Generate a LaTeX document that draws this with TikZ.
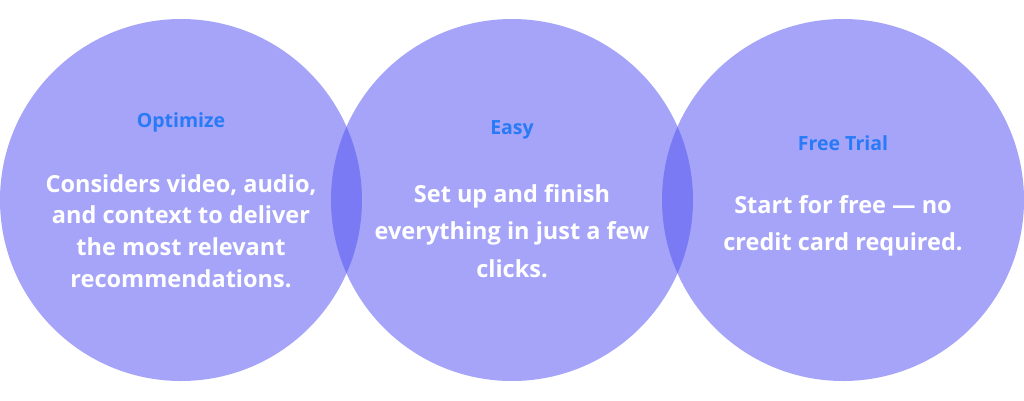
\documentclass[tikz,border=0pt]{standalone}
\usepackage{fontspec}
\setmainfont{Open Sans}
\definecolor{circ}{RGB}{86,84,242}
\definecolor{ttl}{RGB}{40,122,246}
\begin{document}
\begin{tikzpicture}[x=1pt,y=-1pt,
  bubble/.style={circle, minimum size=362pt, inner sep=0pt, fill=circ, fill opacity=0.53},
  ttlstyle/.style={text=ttl, inner sep=0pt, font=\bfseries\fontsize{19.5}{22}\selectfont},
  bodyA/.style={text=white, inner sep=0pt, align=center, font=\bfseries\fontsize{23.5}{31.7}\selectfont},
  bodyB/.style={text=white, inner sep=0pt, align=center, font=\bfseries\fontsize{23.5}{37.5}\selectfont}]
\useasboundingbox (0,0) rectangle (1024,400);
\node[bubble] (c1) at (181,200) {};
\node[bubble] (c2) at (512,200) {};
\node[bubble] (c3) at (843,200) {};
\node[ttlstyle] (t1) at (181,122) {Optimize};
\node[ttlstyle] (t2) at (512,130) {Easy};
\node[ttlstyle] (t3) at (843,143) {Free Trial};
\node[bodyA] (b1) at (181,231) {Considers video, audio,\\and context to deliver\\the most relevant\\recommendations.};
\node[bodyB] (b2) at (512,231) {Set up and finish\\everything in just a few\\clicks.};
\node[bodyB] (b3) at (843,226) {Start for free — no\\credit card required.};
\end{tikzpicture}
\end{document}
